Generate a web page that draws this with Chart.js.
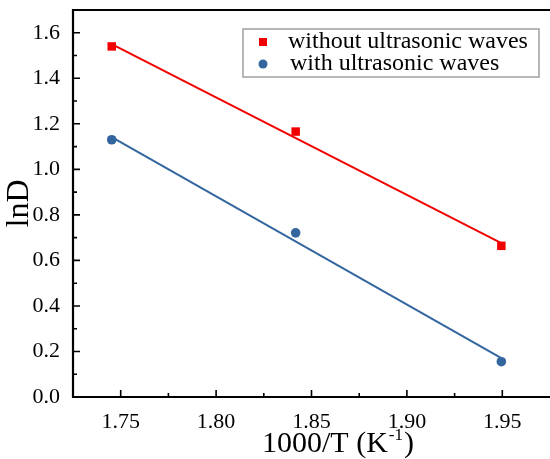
<!DOCTYPE html>
<html>
<head>
<meta charset="utf-8">
<script src="https://cdn.jsdelivr.net/npm/chart.js@4.4.1/dist/chart.umd.min.js"></script>
<style>
  html, body { margin: 0; padding: 0; background: #fff; overflow: hidden; }
  #wrap { width: 550px; height: 459px; position: relative; }
  canvas { display: block; }
</style>
</head>
<body>
<div id="wrap"><canvas id="c"></canvas></div>
<script>
// 1000/T values and lnD
var invT = [1.7453, 1.8417, 1.9495];
var lnDWithout = [1.540, 1.166, 0.664];
var lnDWith = [1.130, 0.721, 0.155];

// linear fit end points (as drawn)
var fitX = [1.7453, 1.9495];
var fitWithout = [1.550, 0.676];
var fitWith = [1.142, 0.171];

var seriesLabels = ['without ultrasonic waves', 'with ultrasonic waves'];
var xTitleMain = '1000/T (K';
var xTitleSup = '-1';
var xTitleEnd = ')';
var yTitle = 'lnD';

var RED = '#f20000';
var BLUE = '#33669e';
var FONT = "'Liberation Serif', 'Times New Roman', serif";

Chart.defaults.font.family = FONT;
Chart.defaults.color = '#000';

function pts(xs, ys) {
    return xs.map(function (x, i) { return { x: x, y: ys[i] }; });
}

// axes frame, inward ticks, x title with superscript, legend box
var framePlugin = {
    id: 'frame',
    afterDraw: function (chart) {
        var ctx = chart.ctx, a = chart.chartArea;
        var xs = chart.scales.x, ys = chart.scales.y;
        ctx.save();
        ctx.strokeStyle = '#000';
        ctx.lineWidth = 2.2;
        ctx.beginPath();
        ctx.moveTo(a.right, a.top); ctx.lineTo(a.left, a.top);
        ctx.lineTo(a.left, a.bottom); ctx.lineTo(a.right, a.bottom);
        ctx.stroke();

        ctx.lineWidth = 1.6;
        ctx.beginPath();
        xs.ticks.forEach(function (t, i) {
            var px = xs.getPixelForTick(i);
            if (px <= a.left + 2 || px >= a.right - 2) return;
            var len = t.label ? 7 : 4;
            ctx.moveTo(px, a.bottom); ctx.lineTo(px, a.bottom - len);
        });
        ys.ticks.forEach(function (t, i) {
            var py = ys.getPixelForTick(i);
            if (py >= a.bottom - 2 || py <= a.top + 2) return;
            var len = t.label ? 7 : 4;
            ctx.moveTo(a.left, py); ctx.lineTo(a.left + len, py);
        });
        ctx.stroke();

        // x axis title
        ctx.fillStyle = '#000';
        ctx.textBaseline = 'alphabetic';
        ctx.textAlign = 'left';
        var tx = a.left + 189, tb = a.bottom + 55;
        ctx.font = '30px ' + FONT;
        ctx.fillText(xTitleMain, tx, tb);
        tx += ctx.measureText(xTitleMain).width + 1;
        ctx.font = '17px ' + FONT;
        ctx.fillText(xTitleSup, tx, tb - 12);
        tx += ctx.measureText(xTitleSup).width + 1;
        ctx.font = '30px ' + FONT;
        ctx.fillText(xTitleEnd, tx, tb);

        // legend
        var bx = a.right - 307, by = a.top + 19, bw = 296, bh = 48;
        ctx.strokeStyle = '#a0a0a0';
        ctx.lineWidth = 1.5;
        ctx.strokeRect(bx, by, bw, bh);
        ctx.font = '24px ' + FONT;
        ctx.textBaseline = 'middle';
        var rowY = [by + 13, by + 35];
        ctx.fillStyle = RED;
        ctx.fillRect(bx + 16, rowY[0] - 4, 8, 8);
        ctx.fillStyle = BLUE;
        ctx.beginPath();
        ctx.arc(bx + 20, rowY[1], 4.5, 0, Math.PI * 2);
        ctx.fill();
        ctx.fillStyle = '#000';
        ctx.fillText(seriesLabels[0], bx + 45, rowY[0]);
        ctx.fillText(seriesLabels[1], bx + 47, rowY[1]);
        ctx.restore();
    }
};

new Chart(document.getElementById('c'), {
    type: 'scatter',
    data: {
        datasets: [
            { label: seriesLabels[0], data: pts(invT, lnDWithout), pointStyle: 'rect',
              pointRadius: 6, backgroundColor: RED, borderColor: RED, borderWidth: 0, order: 0 },
            { label: seriesLabels[1], data: pts(invT, lnDWith), pointStyle: 'circle',
              pointRadius: 4.8, backgroundColor: BLUE, borderColor: BLUE, borderWidth: 0, order: 0 },
            { label: 'fit1', data: pts(fitX, fitWithout), showLine: true, pointRadius: 0,
              borderColor: RED, borderWidth: 2, order: 1 },
            { label: 'fit2', data: pts(fitX, fitWith), showLine: true, pointRadius: 0,
              borderColor: BLUE, borderWidth: 2, order: 1 }
        ]
    },
    options: {
        responsive: true,
        maintainAspectRatio: false,
        animation: false,
        layout: { autoPadding: false, padding: { top: 10, right: 0, left: 0, bottom: 0 } },
        plugins: { legend: { display: false }, tooltip: { enabled: false } },
        scales: {
            x: {
                type: 'linear', min: 1.725, max: 1.975,
                grid: { display: false }, border: { display: false },
                ticks: {
                    stepSize: 0.025, autoSkip: false, maxRotation: 0, padding: 4,
                    color: '#000', font: { family: FONT, size: 22 },
                    callback: function (v) {
                        return Math.round(v * 1000) % 50 === 0 ? v.toFixed(2) : '';
                    }
                },
                afterFit: function (s) { s.height = 62; s.paddingLeft = 0; s.paddingRight = 0; }
            },
            y: {
                type: 'linear', min: 0, max: 1.7,
                grid: { display: false }, border: { display: false },
                ticks: {
                    stepSize: 0.1, autoSkip: false, padding: 5,
                    color: '#000', font: { family: FONT, size: 22 },
                    callback: function (v) {
                        var k = Math.round(v * 10);
                        return k % 2 === 0 && k < 17 ? v.toFixed(1) : '';
                    }
                },
                title: { display: true, text: yTitle, color: '#000',
                         font: { family: FONT, size: 32 }, padding: { top: 0, bottom: 0 } },
                afterFit: function (s) { s.width = 73; s.paddingTop = 0; s.paddingBottom = 0; }
            }
        }
    },
    plugins: [framePlugin]
});
</script>
</body>
</html>
